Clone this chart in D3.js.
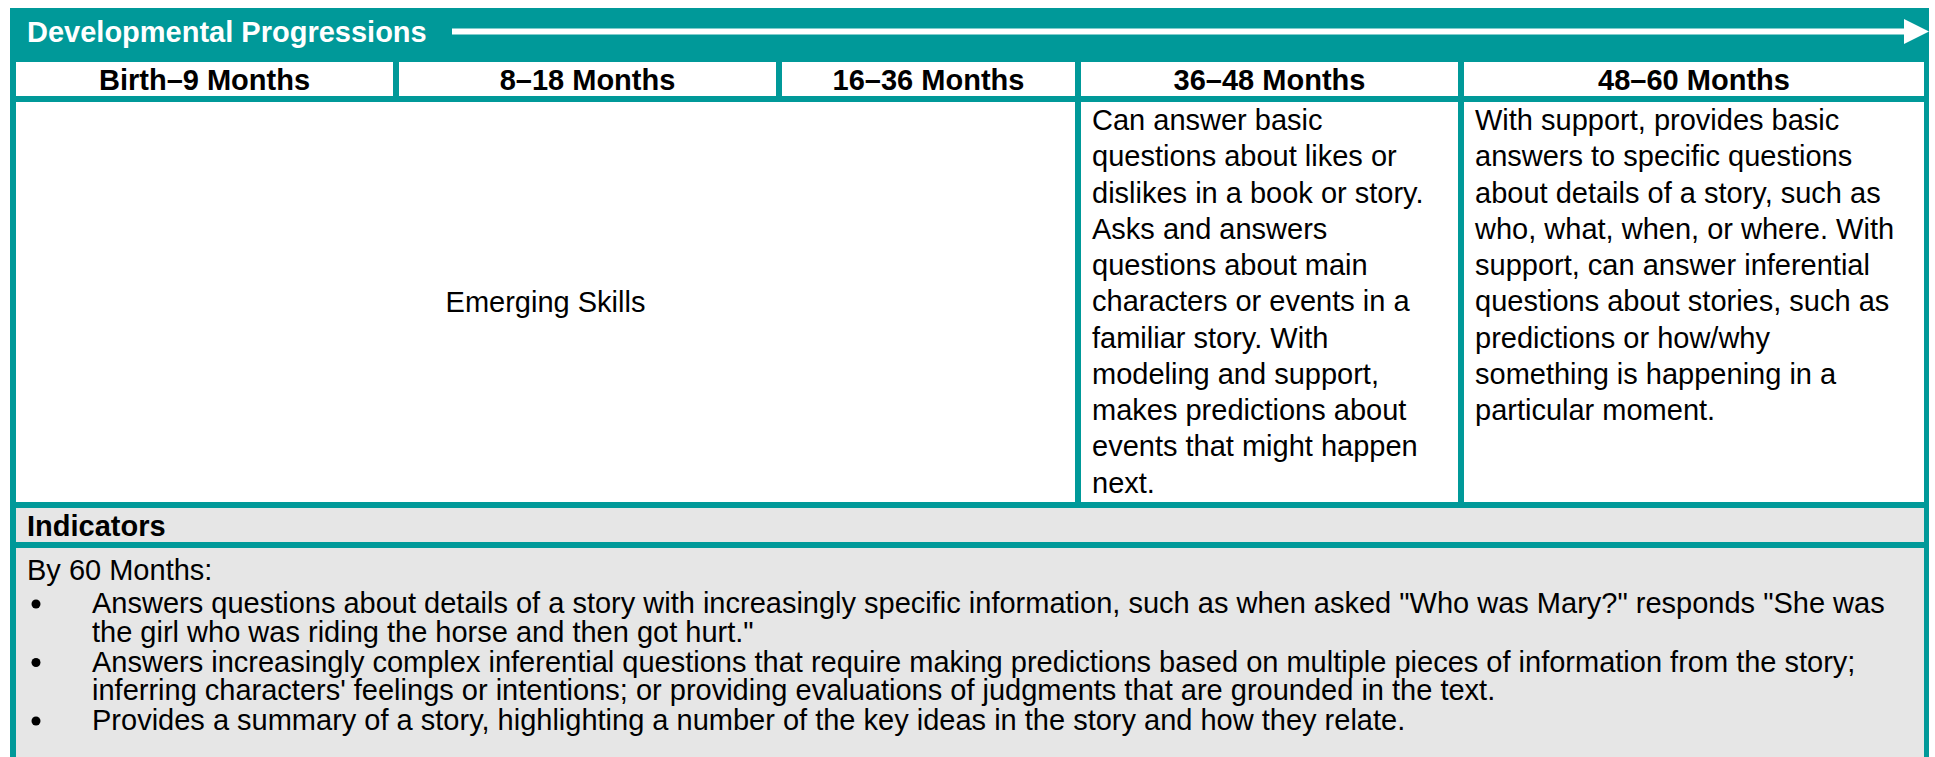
<!DOCTYPE html>
<html><head><meta charset="utf-8">
<script src="https://cdn.jsdelivr.net/npm/d3@7"></script>
<style>html,body{margin:0;padding:0;background:#fff;}svg{display:block;}</style>
</head><body><div id="chart"></div>
<script>
// ---- data (text content) ----
const titleText = "Developmental Progressions";
const ageBands = ["Birth–9 Months", "8–18 Months", "16–36 Months", "36–48 Months", "48–60 Months"];
const emergingLabel = "Emerging Skills";
const col4Lines = [
  "Can answer basic",
  "questions about likes or",
  "dislikes in a book or story.",
  "Asks and answers",
  "questions about main",
  "characters or events in a",
  "familiar story. With",
  "modeling and support,",
  "makes predictions about",
  "events that might happen",
  "next."
];
const col5Lines = [
  "With support, provides basic",
  "answers to specific questions",
  "about details of a story, such as",
  "who, what, when, or where. With",
  "support, can answer inferential",
  "questions about stories, such as",
  "predictions or how/why",
  "something is happening in a",
  "particular moment."
];
const indicatorsTitle = "Indicators";
const indicatorsIntro = "By 60 Months:";
const indicatorBullets = [
  ["Answers questions about details of a story with increasingly specific information, such as when asked \"Who was Mary?\" responds \"She was",
   "the girl who was riding the horse and then got hurt.\""],
  ["Answers increasingly complex inferential questions that require making predictions based on multiple pieces of information from the story;",
   "inferring characters' feelings or intentions; or providing evaluations of judgments that are grounded in the text."],
  ["Provides a summary of a story, highlighting a number of the key ideas in the story and how they relate."]
];

// ---- layout ----
const W = 1935, H = 757;
const TEAL = "#009999", GREY = "#e6e6e6";
const FONT = "'Liberation Sans', Arial, sans-serif";
const FS = 29;
const frame = {x0: 10, x1: 1929, y0: 8};
const inner = {x0: 16, x1: 1924};
const gap = 6;
const colWidths = [377, 377, 293, 377, 460];
const headerY = [62, 96], bodyY = [102, 502], indY = [508, 542], indBodyY0 = 548;

const svg = d3.select("#chart").append("svg").attr("width", W).attr("height", H)
  .style("font-family", FONT);
svg.append("rect").attr("width", W).attr("height", H).attr("fill", "#fff");

// frame
svg.append("rect").attr("x", frame.x0).attr("y", frame.y0)
  .attr("width", frame.x1 - frame.x0).attr("height", H - frame.y0 + 10).attr("fill", TEAL);

// columns via cumulative positions
const edges = [inner.x0];
colWidths.forEach((w, i) => edges.push(edges[i] + w + (i < colWidths.length - 1 ? gap : 0)));
const cols = ageBands.map((d, i) => ({label: d, x0: edges[i], x1: edges[i] + colWidths[i]}));

// title + arrow
svg.append("text").attr("x", 27).attr("y", 42).attr("fill", "#fff")
  .attr("font-size", FS).attr("font-weight", "bold").text(titleText);
const arrowY = 31.5;
svg.append("rect").attr("x", 452).attr("y", arrowY - 3).attr("width", 1906 - 452).attr("height", 6).attr("fill", "#fff");
svg.append("path").attr("d", `M1904,${arrowY - 12.5}L1929,${arrowY}L1904,${arrowY + 12.5}Z`).attr("fill", "#fff");

// header row
const hdr = svg.append("g");
hdr.selectAll("rect").data(cols).join("rect")
  .attr("x", d => d.x0).attr("y", headerY[0]).attr("width", d => d.x1 - d.x0)
  .attr("height", headerY[1] - headerY[0]).attr("fill", "#fff");
hdr.selectAll("text").data(cols).join("text")
  .attr("x", d => (d.x0 + d.x1) / 2).attr("y", 89.5).attr("text-anchor", "middle")
  .attr("font-size", FS).attr("font-weight", "bold").attr("fill", "#000").text(d => d.label);

// body row
const merged = {x0: cols[0].x0, x1: cols[2].x1};
svg.append("rect").attr("x", merged.x0).attr("y", bodyY[0]).attr("width", merged.x1 - merged.x0)
  .attr("height", bodyY[1] - bodyY[0]).attr("fill", "#fff");
svg.append("text").attr("x", (merged.x0 + merged.x1) / 2).attr("y", (bodyY[0] + bodyY[1]) / 2 + 10)
  .attr("text-anchor", "middle").attr("font-size", FS).attr("fill", "#000").text(emergingLabel);

[[cols[3], col4Lines], [cols[4], col5Lines]].forEach(([c, lines]) => {
  svg.append("rect").attr("x", c.x0).attr("y", bodyY[0]).attr("width", c.x1 - c.x0)
    .attr("height", bodyY[1] - bodyY[0]).attr("fill", "#fff");
  const t = svg.append("text").attr("font-size", FS).attr("fill", "#000");
  t.selectAll("tspan").data(lines).join("tspan")
    .attr("x", c.x0 + 11).attr("y", (d, i) => 130 + i * 36.25).text(d => d);
});

// indicators header
svg.append("rect").attr("x", inner.x0).attr("y", indY[0]).attr("width", inner.x1 - inner.x0)
  .attr("height", indY[1] - indY[0]).attr("fill", GREY);
svg.append("text").attr("x", 27).attr("y", 536).attr("font-size", FS).attr("font-weight", "bold")
  .attr("fill", "#000").text(indicatorsTitle);

// indicators body
svg.append("rect").attr("x", inner.x0).attr("y", indBodyY0).attr("width", inner.x1 - inner.x0)
  .attr("height", H - indBodyY0 + 10).attr("fill", GREY);
const introY = 580, firstGap = 33, LH = 28.5, paraGap = 1.5;
svg.append("text").attr("x", 27).attr("y", introY).attr("font-size", FS).attr("fill", "#000").text(indicatorsIntro);
const ib = svg.append("g");
let y = introY + firstGap - LH - paraGap;
indicatorBullets.forEach(lines => {
  y += paraGap;
  lines.forEach((ln, j) => {
    y += LH;
    if (j === 0) ib.append("circle").attr("cx", 36).attr("cy", y - 9).attr("r", 4.5).attr("fill", "#000");
    ib.append("text").attr("x", 92).attr("y", y).attr("font-size", FS).attr("fill", "#000").text(ln);
  });
});
</script></body></html>
